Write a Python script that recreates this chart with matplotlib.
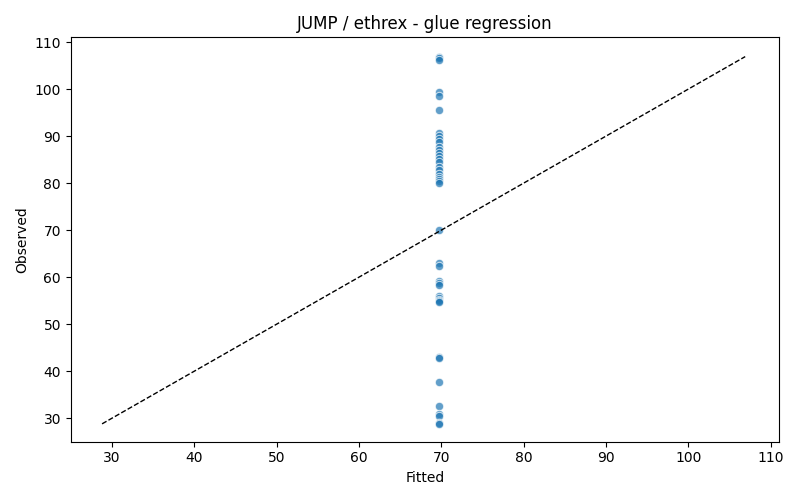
import numpy as np
import matplotlib
matplotlib.use("Agg")
import matplotlib.pyplot as plt

observed = [106.9, 106.6, 106.2, 99.3, 98.5, 95.6,
            90.6, 90.0, 89.4, 88.8, 87.6, 87.0, 86.4, 85.8, 85.1, 84.4,
            83.4, 82.8, 82.0, 81.4, 80.9, 80.4, 80.0,
            70.1, 63.1, 62.3, 59.2, 58.7, 58.3,
            55.9, 55.5, 55.1, 54.9, 54.7,
            43.0, 42.7, 37.8, 32.7, 30.9, 30.4, 29.0, 28.8]
fitted = [69.7] * len(observed)

fig, ax = plt.subplots(figsize=(8, 5), dpi=100)
ax.scatter(fitted, observed, s=36, color="#1f77b4", alpha=0.7,
           edgecolors="white", linewidths=0.75)

lo = min(min(observed), min(fitted))
hi = max(max(observed), max(fitted))
ax.plot([lo, hi], [lo, hi], "k--", linewidth=1)

ax.set_xlim(25, 111)
ax.set_ylim(25, 111)
ax.set_xticks(range(30, 111, 10))
ax.set_yticks(range(30, 111, 10))
ax.set_xlabel("Fitted")
ax.set_ylabel("Observed")
ax.set_title("JUMP / ethrex - glue regression")

plt.tight_layout()
plt.savefig("out.png")
